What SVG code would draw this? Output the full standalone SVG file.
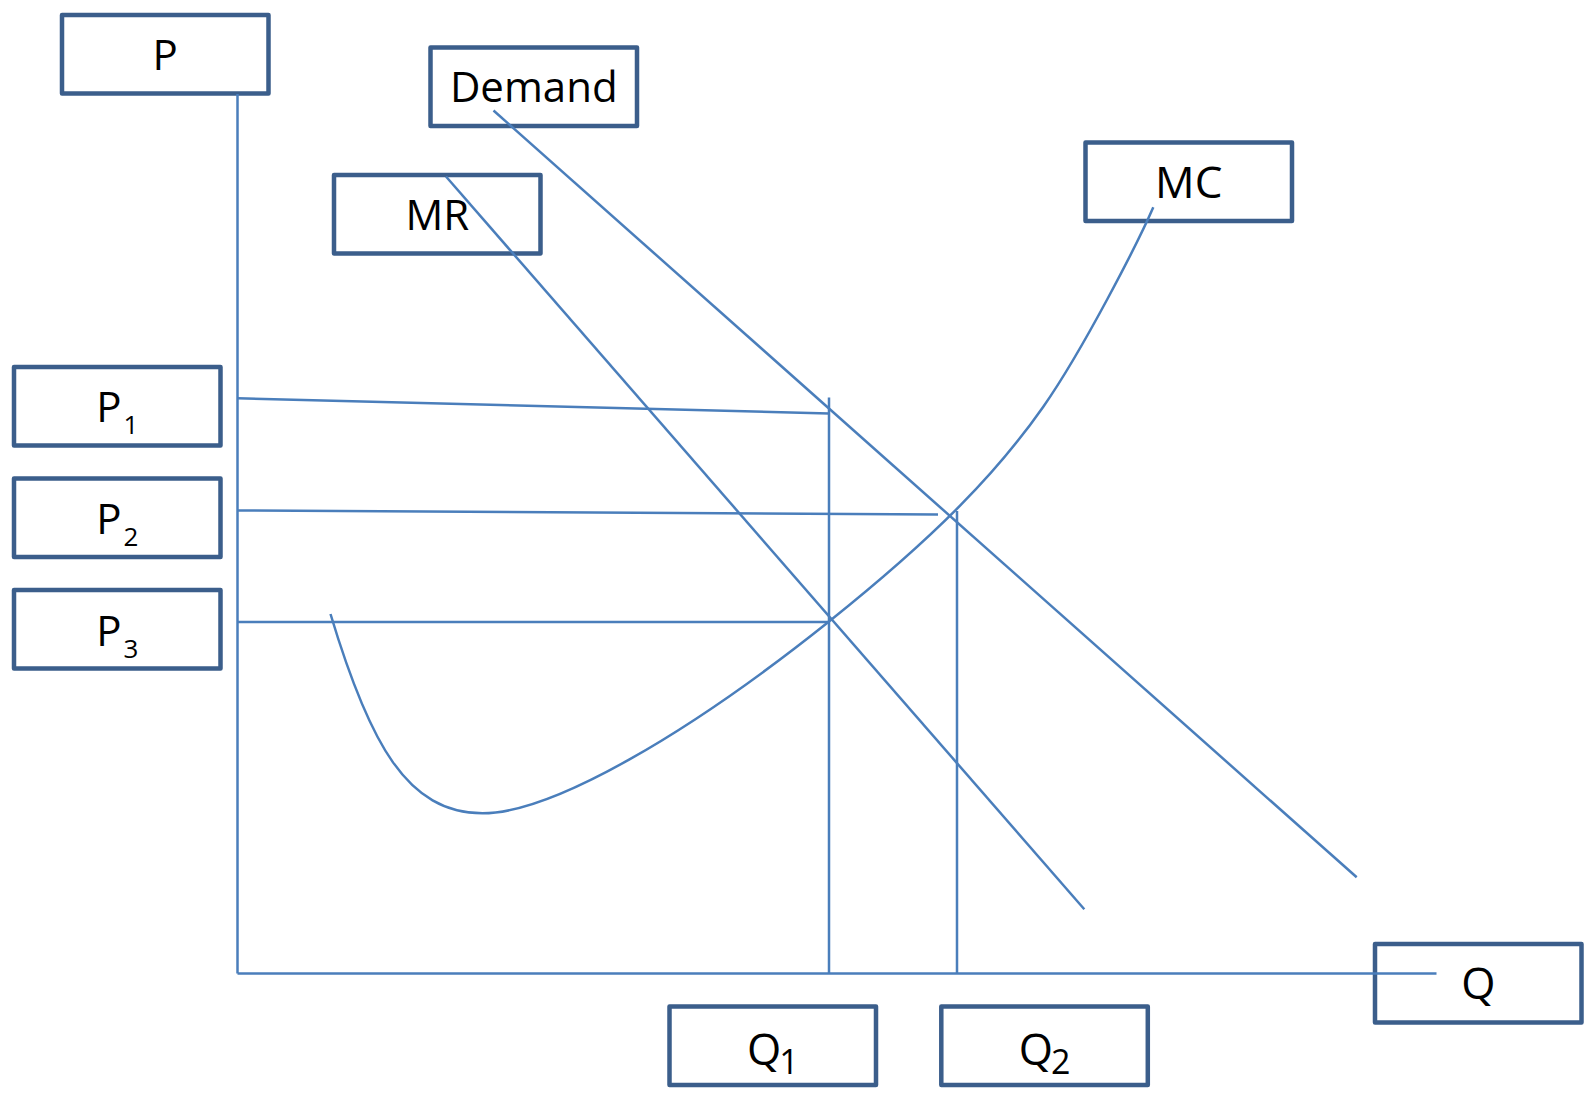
<svg xmlns="http://www.w3.org/2000/svg" width="1585" height="1095" viewBox="0 0 1585 1095">
<style>
.box{fill:#ffffff;stroke:#3b5e8b;stroke-width:4.5;stroke-linejoin:round}
.lbl{font-family:"Open Sans","Noto Sans","Liberation Sans",sans-serif;font-size:42px;fill:#000000;text-anchor:middle}
.ln{fill:none;stroke:#4a7ebb;stroke-width:2.5}
</style>
<rect width="1585" height="1095" fill="#ffffff"/>
<g id="nodes">
<g id="node-P"><rect class="box" x="62" y="15" width="206.5" height="78.5"/><text class="lbl" x="165.25" y="70">P</text></g>
<g id="node-Demand"><rect class="box" x="430.5" y="47.5" width="206.5" height="78.5"/><text class="lbl" x="533.75" y="102">Demand</text></g>
<g id="node-MR"><rect class="box" x="334" y="175" width="206.5" height="78.5"/><text class="lbl" x="437.25" y="230">MR</text></g>
<g id="node-MC"><rect class="box" x="1085.5" y="142.5" width="206.5" height="78.5"/><text class="lbl" x="1188.75" y="198.3" style="font-size:44px">MC</text></g>
<g id="node-P1"><rect class="box" x="14" y="367" width="206.5" height="78.5"/><text class="lbl" x="117.25" y="421.7">P<tspan dx="2" dy="12" style="font-size:26px">1</tspan></text></g>
<g id="node-P2"><rect class="box" x="14" y="478.5" width="206.5" height="78.5"/><text class="lbl" x="117.25" y="533.7">P<tspan dx="2" dy="12" style="font-size:26px">2</tspan></text></g>
<g id="node-P3"><rect class="box" x="14" y="590" width="206.5" height="78.5"/><text class="lbl" x="117.25" y="646">P<tspan dx="2" dy="12" style="font-size:26px">3</tspan></text></g>
<g id="node-Q"><rect class="box" x="1375" y="944" width="206.5" height="78.5"/><text class="lbl" x="1478.25" y="999" style="font-size:44px">Q</text></g>
<g id="node-Q1"><rect class="box" x="669.5" y="1006.5" width="206.5" height="78.5"/><text class="lbl" x="772.75" y="1065" style="font-size:44px">Q<tspan dx="-2" dy="9" style="font-size:34px">1</tspan></text></g>
<g id="node-Q2"><rect class="box" x="941.3" y="1006.5" width="206.5" height="78.5"/><text class="lbl" x="1044.55" y="1065" style="font-size:44px">Q<tspan dx="-2" dy="9" style="font-size:34px">2</tspan></text></g>
</g>
<g id="connectors">
<path id="axis-p" class="ln" d="M237.5,94 V973.5"/>
<path id="axis-q" class="ln" d="M237.5,973.5 H1436.5"/>
<path id="p1-line" class="ln" d="M237.5,398.3 L829,413.4"/>
<path id="q1-line" class="ln" d="M829,397.5 V973.5"/>
<path id="p2-line" class="ln" d="M237.5,510.5 L938,514.5"/>
<path id="q2-line" class="ln" d="M957,511 V973.5"/>
<path id="p3-line" class="ln" d="M237.5,622 H829"/>
<path id="demand-curve" class="ln" d="M493.5,110.5 L1356.7,877.3"/>
<path id="mr-curve" class="ln" d="M446,176.5 L1084.3,909.3"/>
<path id="mc-curve" class="ln" d="M330.5,614 C369.5,744 407.5,813.3 482.5,813.3 C552.5,813.3 689,733.5 829,621.5 C939,533.5 998.3,471 1043.3,406.7 C1083.3,349.5 1138.3,241.8 1153.3,207.3"/>
</g>
</svg>
